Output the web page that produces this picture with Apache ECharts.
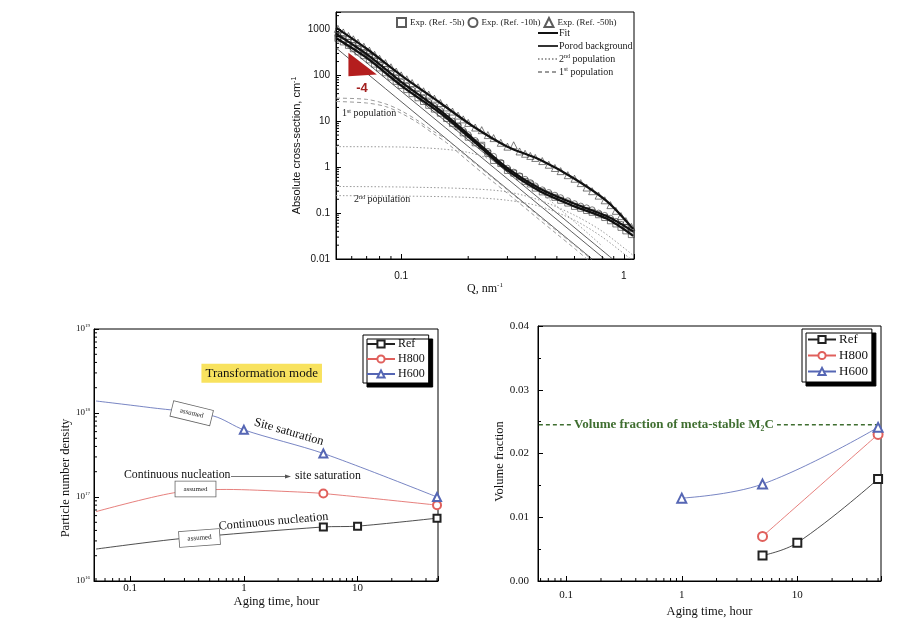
<!DOCTYPE html>
<html><head><meta charset="utf-8">
<script src="https://cdn.jsdelivr.net/npm/echarts@6/dist/echarts.min.js"></script>
<style>html,body{margin:0;padding:0;background:#fff}#c{width:918px;height:631px}</style>
</head><body><div id="c"></div>
<script>
// ================= Panel (a): absolute cross-section vs Q =================
const Q = [0.052,0.055,0.058,0.061,0.064,0.068,0.072,0.076,0.08,0.085,0.09,0.095,0.1,0.106,0.112,0.119,0.126,0.133,0.141,0.15,0.16,0.17,0.18,0.19,0.2,0.215,0.23,0.245,0.26,0.28,0.3,0.32,0.34,0.36,0.38,0.4,0.43,0.46,0.49,0.52,0.56,0.6,0.64,0.68,0.72,0.77,0.82,0.87,0.92,0.97,1.02,1.08];
const I_5h  = [640,535,450,380,325,268,218,176,145,114,92,74,60,49,40,32.5,27,22.3,18.4,15,11.5,9.0,7.6,5.6,4.5,3.4,3.0,2.0,1.4,1.2,0.85,0.74,0.62,0.49,0.43,0.35,0.29,0.25,0.22,0.19,0.165,0.14,0.127,0.114,0.104,0.092,0.08,0.068,0.058,0.049,0.041,0.034];
const I_10h = [753,631,532,452,386,318,260,210,172,136,109,88,72,58.6,48,38.6,31.7,26,21.2,17,13,10.1,8.0,6.3,5.1,3.8,2.86,2.2,1.72,1.27,0.95,0.78,0.65,0.545,0.46,0.39,0.32,0.28,0.245,0.216,0.185,0.16,0.142,0.13,0.118,0.10,0.089,0.077,0.066,0.057,0.049,0.042];
const I_50h = [1030,860,720,610,515,420,345,280,230,185,150,121,100,82,68,55,45,38,31,25,20,16.3,13.3,11,9.2,7.3,6.4,5.0,4.3,3.4,2.8,3.0,2.2,1.96,1.76,1.59,1.36,1.13,0.96,0.82,0.67,0.56,0.45,0.36,0.30,0.24,0.19,0.149,0.112,0.086,0.067,0.05];
const FIT_Q   = [0.051,0.07,0.1,0.15,0.21,0.3,0.42,0.6,0.84,1.1];
const FIT_5h  = [650,240,60,15,3.8,0.85,0.3,0.14,0.075,0.032];
const FIT_10h = [800,290,72,17,4.2,0.95,0.34,0.16,0.085,0.04];
const FIT_50h = [1100,380,100,25,7.8,2.8,1.45,0.56,0.18,0.045];
const POROD_Q = [[0.051,0.72],[0.051,0.82],[0.051,0.89]];
const POROD_I = [[397,0.01],[668,0.01],[926,0.01]];
const POP1_Q  = [0.051,0.07,0.085,0.1,0.12,0.14,0.16,0.2,0.25,0.3,0.4,0.5,0.6,0.72];
const POP1_A  = [32,30,24,17,10,6,4,1.6,0.66,0.32,0.1,0.041,0.02,0.0095];
const POP1_B  = [27,25,21,15,9,5.3,3.4,1.35,0.55,0.27,0.085,0.035,0.017,0.008];
const POP2A_Q = [0.051,0.1,0.15,0.2,0.25,0.3,0.35,0.4,0.5,0.6,0.7,0.8];
const POP2A_I = [2.8,2.75,2.5,2.1,1.5,0.95,0.58,0.36,0.14,0.065,0.034,0.019];
const POP2_Q  = [0.051,0.1,0.2,0.3,0.42,0.6,0.8,1.1];
const POP2B_I = [0.38,0.37,0.34,0.29,0.19,0.09,0.04,0.012];
const POP2C_I = [0.24,0.235,0.22,0.19,0.14,0.07,0.03,0.009];
const SLOPE_TRI_Q = [0.058,0.058,0.0778];
const SLOPE_TRI_I = [310,96,104];

// ================= Panel (b): particle number density =================
const T_REF_N  = [0.05,0.28,5,10,50];
const N_REF    = [2.4e16,3.2e16,4.4e16,4.5e16,5.6e16];
const REF_N_MEAS = [false,false,true,true,true];
const T_H800_N = [0.05,0.24,0.7,2.5,5,50];
const N_H800   = [6.7e16,1.12e17,1.23e17,1.16e17,1.1e17,8e16];
const H800_N_MEAS = [false,false,false,false,true,true];
const T_H600_N = [0.05,0.15,0.54,1,5,50];
const N_H600   = [1.39e18,1.16e18,9.2e17,6.3e17,3.3e17,1e17];
const H600_N_MEAS = [false,false,false,true,true,true];

// ================= Panel (c): volume fraction =================
const T_REF_V  = [5,10,50];   const V_REF  = [0.004,0.006,0.016];
const T_H800_V = [5,50];      const V_H800 = [0.007,0.023];
const T_H600_V = [1,5,50];    const V_H600 = [0.013,0.0152,0.0241];
const M2C_T = [0.058,50];     const M2C_LIMIT = 0.0245;

const SERIF = '"Liberation Serif", "Times New Roman", serif';
const SANS = '"Liberation Sans", Arial, sans-serif';
const C_REF = '#222', C_H800 = '#e0605c', C_H600 = '#5566b4';

const zip = (a, b) => a.map((v, i) => [v, b[i]]);
function isPow(v){ const l = Math.log10(v); return Math.abs(l - Math.round(l)) < 1e-6; }
function decLabel(v){ if(!isPow(v)) return ''; const e = Math.round(Math.log10(v)); return e >= 0 ? String(Math.pow(10,e)) : Math.pow(10,e).toFixed(-e); }
function powLabel(v){ if(!isPow(v)) return ''; return '{b|10}{s|' + Math.round(Math.log10(v)) + '}'; }
function decadeMinors(lo, hi){ const out=[]; for(let e=-3;e<=19;e++){ for(let m=2;m<=9;m++){ const v=m*Math.pow(10,e); if(v>lo && v<hi) out.push(v);} } return out; }
function minorTicks(xi, yi, vals, dir, anchor, len){
  return {type:'custom', xAxisIndex:xi, yAxisIndex:yi, silent:true, z:10, clip:false,
    data: vals.map(v => dir==='x' ? [v, anchor] : [anchor, v]),
    renderItem(params, api){
      const cs = params.coordSys;
      if(dir==='x'){ const px = api.coord([api.value(0), anchor])[0];
        return {type:'line', shape:{x1:px,y1:cs.y+cs.height,x2:px,y2:cs.y+cs.height-len}, style:{stroke:'#000', lineWidth:1}}; }
      const py = api.coord([anchor, api.value(1)])[1];
      return {type:'line', shape:{x1:cs.x,y1:py,x2:cs.x+len,y2:py}, style:{stroke:'#000', lineWidth:1}};
    }};
}
const axBase = {axisLine:{show:true, lineStyle:{color:'#000', width:1}}, axisTick:{show:true, inside:true, length:5, lineStyle:{color:'#000'}}, splitLine:{show:false}};
const supRich = (fs, fam) => ({b:{fontSize:fs, fontFamily:fam, lineHeight:fs+3, color:'#111'}, s:{fontSize:Math.round(fs*0.6), fontFamily:fam, lineHeight:Math.round(fs*0.6)+1, verticalAlign:'top', color:'#111'}});

const scatterStyle = (sym, size) => ({type:'scatter', xAxisIndex:0, yAxisIndex:0, symbol:sym, symbolSize:size,
  itemStyle:{color:'rgba(255,255,255,0)', borderColor:'#333', borderWidth:0.8}, z:2});
const lineS = (name, data, ls, z) => ({type:'line', name, xAxisIndex:0, yAxisIndex:0, data, symbol:'none', smooth:0.3,
  lineStyle:ls, itemStyle:{color:ls.color}, z:z||3});

const series = [
  Object.assign(scatterStyle('rect',6), {name:'Exp. (Ref. -5h)', data: zip(Q, I_5h)}),
  Object.assign(scatterStyle('circle',6), {name:'Exp. (Ref. -10h)', data: zip(Q, I_10h)}),
  Object.assign(scatterStyle('triangle',7), {name:'Exp. (Ref. -50h)', data: zip(Q, I_50h)}),
  lineS('Porod background', zip(POROD_Q[0], POROD_I[0]), {color:'#333', width:0.8}),
  lineS('Porod background', zip(POROD_Q[1], POROD_I[1]), {color:'#333', width:0.8}),
  lineS('Porod background', zip(POROD_Q[2], POROD_I[2]), {color:'#333', width:0.8}),
  lineS('1st population', zip(POP1_Q, POP1_A), {color:'#9a9a9a', width:1, type:[4,3]}),
  lineS('1st population', zip(POP1_Q, POP1_B), {color:'#9a9a9a', width:1, type:[4,3]}),
  lineS('2nd population', zip(POP2A_Q, POP2A_I), {color:'#9a9a9a', width:1, type:[1.5,2]}),
  lineS('2nd population', zip(POP2_Q, POP2B_I), {color:'#9a9a9a', width:1, type:[1.5,2]}),
  lineS('2nd population', zip(POP2_Q, POP2C_I), {color:'#9a9a9a', width:1, type:[1.5,2]}),
  lineS('Fit', zip(FIT_Q, FIT_5h), {color:'#111', width:2.2}, 5),
  lineS('Fit', zip(FIT_Q, FIT_10h), {color:'#111', width:2.2}, 5),
  lineS('Fit', zip(FIT_Q, FIT_50h), {color:'#111', width:2.2}, 5),
  {type:'custom', xAxisIndex:0, yAxisIndex:0, silent:true, z:6, data:[[SLOPE_TRI_Q[0], SLOPE_TRI_I[0]]],
    renderItem(params, api){
      const pts = SLOPE_TRI_Q.map((q,i) => api.coord([q, SLOPE_TRI_I[i]]));
      return {type:'polygon', shape:{points:pts}, style:{fill:'#b41e1e'}};
    }},
  // panel b
  {type:'line', name:'Ref', xAxisIndex:1, yAxisIndex:1, smooth:0.3, symbol:'emptyRect', symbolSize:7,
    data: T_REF_N.map((t,i)=>({value:[t,N_REF[i]], symbol: REF_N_MEAS[i]?'emptyRect':'none'})),
    lineStyle:{color:C_REF, width:0.8}, itemStyle:{color:C_REF, borderWidth:1}},
  {type:'line', name:'H800', xAxisIndex:1, yAxisIndex:1, smooth:0.3, symbol:'emptyCircle', symbolSize:8,
    data: T_H800_N.map((t,i)=>({value:[t,N_H800[i]], symbol: H800_N_MEAS[i]?'emptyCircle':'none'})),
    lineStyle:{color:C_H800, width:0.8}, itemStyle:{color:C_H800, borderWidth:1}},
  {type:'line', name:'H600', xAxisIndex:1, yAxisIndex:1, smooth:0.3, symbol:'emptyTriangle', symbolSize:8,
    data: T_H600_N.map((t,i)=>({value:[t,N_H600[i]], symbol: H600_N_MEAS[i]?'emptyTriangle':'none'})),
    lineStyle:{color:C_H600, width:0.8}, itemStyle:{color:C_H600, borderWidth:1}},
  // panel c
  {type:'line', name:'M2C', xAxisIndex:2, yAxisIndex:2, symbol:'none', data: M2C_T.map(t=>[t, M2C_LIMIT]),
    lineStyle:{color:'#3f6e30', width:1.6, type:[4,3]}, z:1},
  {type:'line', name:'Ref', xAxisIndex:2, yAxisIndex:2, smooth:0.4, symbol:'emptyRect', symbolSize:8, data: zip(T_REF_V, V_REF),
    lineStyle:{color:C_REF, width:0.8}, itemStyle:{color:C_REF, borderWidth:1}},
  {type:'line', name:'H800', xAxisIndex:2, yAxisIndex:2, smooth:0.4, symbol:'emptyCircle', symbolSize:9, data: zip(T_H800_V, V_H800),
    lineStyle:{color:C_H800, width:0.8}, itemStyle:{color:C_H800, borderWidth:1}},
  {type:'line', name:'H600', xAxisIndex:2, yAxisIndex:2, smooth:0.4, symbol:'emptyTriangle', symbolSize:9, data: zip(T_H600_V, V_H600),
    lineStyle:{color:C_H600, width:0.8}, itemStyle:{color:C_H600, borderWidth:1}},
  minorTicks(0,0, decadeMinors(0.051,1.11), 'x', 1, 3),
  minorTicks(0,0, decadeMinors(0.01,2400), 'y', 0.1, 3),
  minorTicks(1,1, decadeMinors(0.048,51), 'x', 1e17, 3),
  minorTicks(1,1, decadeMinors(1e16,1e19), 'y', 1, 3),
  minorTicks(2,2, decadeMinors(0.057,53), 'x', 0.01, 3)
];

const legendBox = {orient:'vertical', selectedMode:false, itemWidth:28, itemHeight:9, itemGap:3,
  backgroundColor:'#fff', borderColor:'#000', borderWidth:1, borderRadius:0,
  shadowColor:'#000', shadowBlur:0, shadowOffsetX:4, shadowOffsetY:4,
  textStyle:{fontFamily:SERIF, fontSize:12, color:'#111', padding:[0,0,0,-2]}, data:['Ref','H800','H600']};

const option = {
  animation:false, backgroundColor:'#fff',
  grid:[
    {left:336, top:12, width:298, height:247, show:true, borderColor:'#000', borderWidth:1, outerBoundsMode:'none', containLabel:false},
    {left:94, top:329, width:344, height:252, show:true, borderColor:'#000', borderWidth:1, outerBoundsMode:'none', containLabel:false},
    {left:538, top:326, width:343, height:255, show:true, borderColor:'#000', borderWidth:1, outerBoundsMode:'none', containLabel:false}
  ],
  xAxis:[
    Object.assign({}, axBase, {type:'log', logBase:10, gridIndex:0, min:0.051, max:1.11,
      axisLabel:{formatter:decLabel, fontFamily:SANS, fontSize:10, color:'#111', margin:12},
      name:'Q, nm{s|-1}', nameLocation:'middle', nameGap:22,
      nameTextStyle:{fontFamily:SERIF, fontSize:12, color:'#111', lineHeight:14, rich:{s:{fontFamily:SERIF, fontSize:7, lineHeight:8, verticalAlign:'top', color:'#111'}}}}),
    Object.assign({}, axBase, {type:'log', logBase:10, gridIndex:1, min:0.048, max:51,
      axisLabel:{formatter:decLabel, fontFamily:SERIF, fontSize:11, color:'#111', margin:2},
      name:'Aging time, hour', nameLocation:'middle', nameGap:14,
      nameTextStyle:{fontFamily:SERIF, fontSize:12.5, color:'#111', padding:[0,0,0,21]}}),
    Object.assign({}, axBase, {type:'log', logBase:10, gridIndex:2, min:0.057, max:53,
      axisLabel:{formatter:decLabel, fontFamily:SERIF, fontSize:11, color:'#111', margin:9},
      name:'Aging time, hour', nameLocation:'middle', nameGap:24,
      nameTextStyle:{fontFamily:SERIF, fontSize:12.5, color:'#111'}})
  ],
  yAxis:[
    Object.assign({}, axBase, {type:'log', logBase:10, gridIndex:0, min:0.01, max:2400,
      axisLabel:{formatter:decLabel, fontFamily:SANS, fontSize:10, color:'#111', margin:6},
      name:'Absolute cross-section, cm{s|-1}', nameLocation:'middle', nameGap:23, nameRotate:90,
      nameTextStyle:{fontFamily:SANS, fontSize:11, color:'#111', lineHeight:13, padding:[0,20,0,0], rich:{s:{fontFamily:SANS, fontSize:7, lineHeight:8, verticalAlign:'top', color:'#111'}}}}),
    Object.assign({}, axBase, {type:'log', logBase:10, gridIndex:1, min:1e16, max:1e19,
      axisLabel:{formatter:powLabel, margin:4, rich:supRich(9, SERIF)},
      name:'Particle number density', nameLocation:'middle', nameGap:22, nameRotate:90,
      nameTextStyle:{fontFamily:SERIF, fontSize:12.5, color:'#111', padding:[0,46,0,0]}}),
    Object.assign({}, axBase, {type:'value', gridIndex:2, min:0, max:0.04, interval:0.01,
      minorTick:{show:true, splitNumber:2, length:3, lineStyle:{color:'#000'}},
      axisLabel:{formatter:v=>v.toFixed(2), fontFamily:SERIF, fontSize:11, color:'#111', margin:9},
      name:'Volume fraction', nameLocation:'middle', nameGap:31, nameRotate:90,
      nameTextStyle:{fontFamily:SERIF, fontSize:12.5, color:'#111', padding:[0,16,0,0]}})
  ],
  legend:[
    {data:['Exp. (Ref. -5h)','Exp. (Ref. -10h)','Exp. (Ref. -50h)'], orient:'horizontal', left:396, top:17, padding:0, selectedMode:false,
      itemWidth:9, itemHeight:9, itemGap:3, textStyle:{fontFamily:SERIF, fontSize:9, color:'#222', padding:[0,0,0,-1]}},
    {data:['Fit','Porod background','2nd population','1st population'], orient:'vertical', left:537, top:27, padding:0, selectedMode:false,
      itemWidth:20, itemHeight:8, itemGap:1, itemStyle:{opacity:0},
      formatter: n => n.replace(/^2nd/, '2{s|nd}').replace(/^1st/, '1{s|st}'),
      textStyle:{fontFamily:SERIF, fontSize:10, color:'#222', lineHeight:12, padding:[0,0,0,-4],
        rich:{s:{fontFamily:SERIF, fontSize:6, lineHeight:7, verticalAlign:'top', color:'#222'}}}},
    Object.assign({}, legendBox, {left:363, top:335, padding:[3,4,3,3]}),
    Object.assign({}, legendBox, {left:802, top:329, padding:[4,4,4,5], textStyle:{fontFamily:SERIF, fontSize:13, color:'#111', padding:[0,0,0,-2]}})
  ],
  graphic:[
    {type:'text', x:342, y:113, z:50, style:{text:'1{s|st} population', fontFamily:SERIF, fontSize:10, fill:'#222', verticalAlign:'middle',
      rich:{s:{fontFamily:SERIF, fontSize:6, lineHeight:7, verticalAlign:'top', fill:'#222'}}}},
    {type:'text', x:354, y:199, z:50, style:{text:'2{s|nd} population', fontFamily:SERIF, fontSize:10, fill:'#222', verticalAlign:'middle',
      rich:{s:{fontFamily:SERIF, fontSize:6, lineHeight:7, verticalAlign:'top', fill:'#222'}}}},
    {type:'text', x:362, y:88, z:50, style:{text:'-4', fontFamily:SANS, fontWeight:'bold', fontSize:13, fill:'#a3201f', align:'center', verticalAlign:'middle'}},
    {type:'text', x:261.7, y:373.3, z:50, style:{text:'Transformation mode', fontFamily:SERIF, fontSize:13, fill:'#111', align:'center', verticalAlign:'middle',
      backgroundColor:'#f8e25e', padding:[3,4]}},
    {type:'text', x:191.7, y:413.3, rotation:-0.24, z:50, style:{text:'assumed', fontFamily:SERIF, fontSize:7, fill:'#222', align:'center', verticalAlign:'middle',
      backgroundColor:'#fff', borderColor:'#666', borderWidth:0.8, padding:[4,8]}},
    {type:'text', x:195.5, y:489, z:50, style:{text:'assumed', fontFamily:SERIF, fontSize:7, fill:'#222', align:'center', verticalAlign:'middle',
      backgroundColor:'#fff', borderColor:'#666', borderWidth:0.8, padding:[4,8]}},
    {type:'text', x:199.5, y:538, rotation:0.07, z:50, style:{text:'assumed', fontFamily:SERIF, fontSize:7, fill:'#222', align:'center', verticalAlign:'middle',
      backgroundColor:'#fff', borderColor:'#666', borderWidth:0.8, padding:[4,8]}},
    {type:'text', x:289, y:432, rotation:-0.28, z:50, style:{text:'Site saturation', fontFamily:SERIF, fontSize:12.5, fill:'#111', align:'center', verticalAlign:'middle'}},
    {type:'text', x:124, y:475, z:50, style:{text:'Continuous nucleation', fontFamily:SERIF, fontSize:11.8, fill:'#111', verticalAlign:'middle'}},
    {type:'line', z:50, shape:{x1:231, y1:476.5, x2:289, y2:476.5}, style:{stroke:'#555', lineWidth:0.8}},
    {type:'polygon', z:50, shape:{points:[[291,476.5],[285,474.5],[285,478.5]]}, style:{fill:'#555'}},
    {type:'text', x:295, y:475.5, z:50, style:{text:'site saturation', fontFamily:SERIF, fontSize:11.8, fill:'#111', verticalAlign:'middle'}},
    {type:'text', x:273.5, y:521.5, rotation:0.09, z:50, style:{text:'Continuous nucleation', fontFamily:SERIF, fontSize:12.2, fill:'#111', align:'center', verticalAlign:'middle'}},
    {type:'text', x:674, y:425, z:50, style:{text:'Volume fraction of meta-stable M\u2082C', fontFamily:SERIF, fontWeight:'bold', fontSize:13, fill:'#3f6e30',
      align:'center', verticalAlign:'middle', backgroundColor:'#fff', padding:[1,3]}}
  ],
  series
};
const chart = echarts.init(document.getElementById('c'), null, {renderer:'canvas'});
chart.setOption(option);
</script></body></html>
